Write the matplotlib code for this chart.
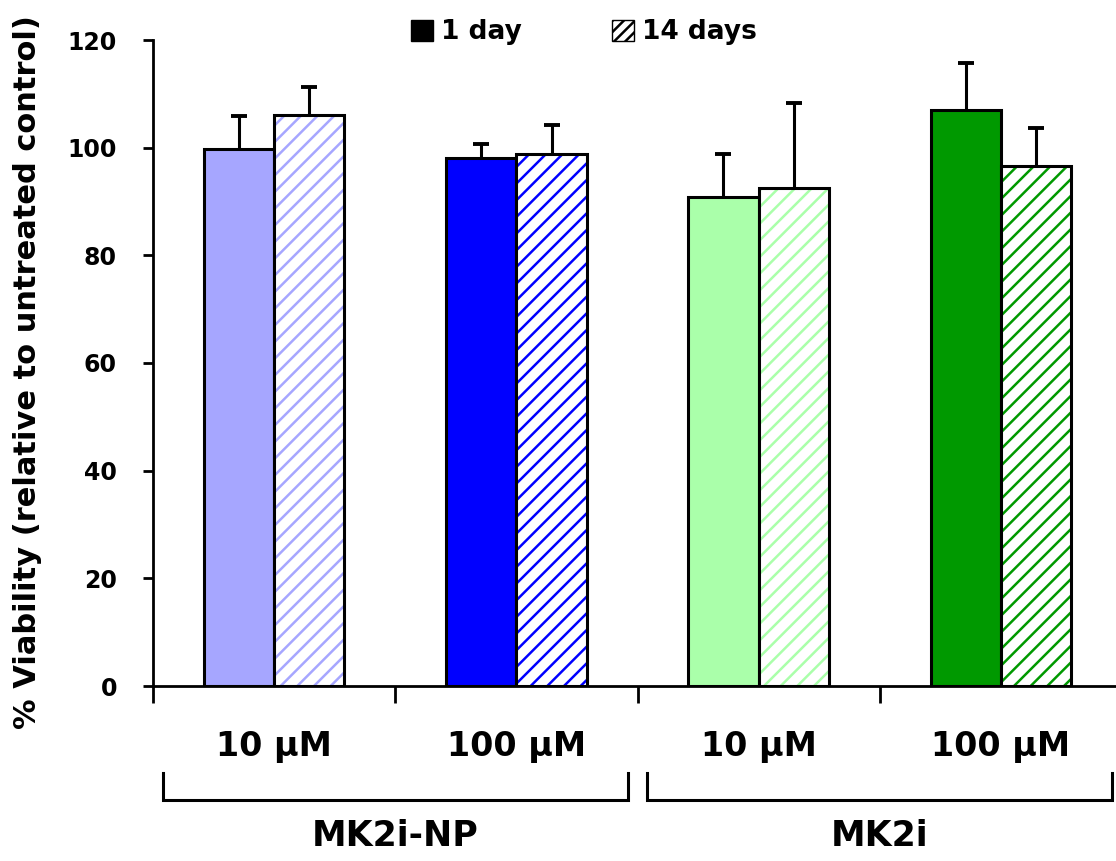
import matplotlib
matplotlib.use("Agg")
import matplotlib.pyplot as plt
import numpy as np
from matplotlib.patches import Patch

plt.rcParams["font.family"] = ["DejaVu Sans"]
plt.rcParams["font.weight"] = "bold"
plt.rcParams["hatch.linewidth"] = 1.8

conc_labels = ["10 \u00b5M", "100 \u00b5M", "10 \u00b5M", "100 \u00b5M"]
group_labels = ["MK2i-NP", "MK2i"]
day1_mean = [99.8, 98.1, 90.8, 107.0]
day1_err = [6.1, 2.6, 8.0, 8.7]
day14_mean = [106.1, 98.8, 92.5, 96.6]
day14_err = [5.2, 5.4, 15.8, 7.1]
colors = ["#A6A6FF", "#0000FF", "#AAFFAA", "#009900"]

fig = plt.figure(figsize=(11.16, 8.61), dpi=100)
ax = fig.add_axes([153 / 1116, 1 - 686 / 861, 969 / 1116, 646 / 861])

x = np.arange(len(conc_labels))
w = 0.29
lw = 2.2

ax.bar(x - w / 2, day1_mean, w, color=colors, edgecolor="black", linewidth=lw, zorder=2)
ax.bar(x + w / 2, day14_mean, w, color="white", edgecolor=colors, hatch="//", linewidth=0, zorder=2)
ax.bar(x + w / 2, day14_mean, w, fill=False, edgecolor="black", linewidth=lw, zorder=3)

for xs, m, e in [(x - w / 2, day1_mean, day1_err), (x + w / 2, day14_mean, day14_err)]:
    eb = ax.errorbar(xs, m, yerr=[np.zeros(len(e)), e], fmt="none", ecolor="black",
                     elinewidth=2.2, capsize=5.5, capthick=2.8, zorder=1)
    # only the upper cap is shown
    eb[1][0].set_visible(False)

ax.set_xlim(-0.5, 3.5)
ax.set_ylim(0, 120)
ax.set_yticks(np.arange(0, 121, 20))
ax.tick_params(axis="y", direction="out", length=7, width=2, labelsize=17, pad=19)
ax.set_xticks(x)
ax.set_xticklabels(conc_labels, fontsize=24, fontweight="bold")
ax.tick_params(axis="x", which="major", length=0, pad=32)
ax.set_xticks(np.arange(-0.5, 3.6, 1), minor=True)
ax.tick_params(axis="x", which="minor", direction="out", length=12, width=2)
for s in ["top", "right"]:
    ax.spines[s].set_visible(False)
for s in ["left", "bottom"]:
    ax.spines[s].set_linewidth(2)

fig.text(28 / 1116, 1 - 372 / 861, "% Viability (relative to untreated control)", rotation=90,
         ha="center", va="center", fontsize=22, fontweight="bold")

trans = ax.get_xaxis_transform()
for gi, g in enumerate(group_labels):
    c = 0.5 + 2 * gi
    l, r = c - 0.96, c + 0.96
    ax.plot([l, l, r, r], [-0.135, -0.1765, -0.1765, -0.135], color="black", lw=2.2,
            transform=trans, clip_on=False, solid_joinstyle="miter")
    ax.text(c, -0.232, g, transform=trans, ha="center", va="center", fontsize=25, fontweight="bold")

handles = [Patch(facecolor="black", edgecolor="black"),
           Patch(facecolor="white", edgecolor="black", hatch="///")]
fig.legend(handles, ["1 day", "14 days"], loc="upper center", bbox_to_anchor=(0.523, 1.005),
           ncol=2, frameon=False, fontsize=19, handlelength=0.85, handleheight=0.85,
           handletextpad=0.3, columnspacing=3.4)

fig.savefig("out.png", dpi=100)
